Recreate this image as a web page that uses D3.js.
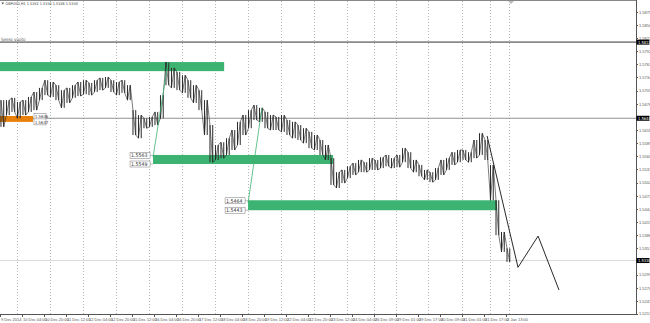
<!DOCTYPE html>
<html>
<head>
<meta charset="utf-8">
<script src="https://cdn.jsdelivr.net/npm/d3@7"></script>
<style>
  body { margin: 0; background: #fff; }
  svg { display: block; font-family: "Liberation Sans Narrow", "DejaVu Sans Condensed", sans-serif; }
  .axis text { font-size: 4px; fill: #555; }
  .axis path, .axis line { stroke: #555; shape-rendering: crispEdges; }
</style>
</head>
<body>
<div id="chart"></div>
<script>
// GBPUSD H1, one entry per group of 4 bars (high / low)
var groupHigh = [1.5684, 1.5684, 1.5689, 1.5680, 1.5684, 1.5691, 1.5702, 1.5711, 1.5728, 1.5724,
    1.5717, 1.5706, 1.5711, 1.5717, 1.5724, 1.5728, 1.5722, 1.5728, 1.5733, 1.5735,
    1.5728, 1.5724, 1.5728, 1.5717, 1.5662, 1.5651, 1.5644, 1.5647, 1.5658, 1.5695,
    1.5768, 1.5755, 1.5746, 1.5739, 1.5728, 1.5717, 1.5706, 1.5684, 1.5629, 1.5585,
    1.5591, 1.5600, 1.5618, 1.5636, 1.5651, 1.5662, 1.5673, 1.5667, 1.5658, 1.5651,
    1.5647, 1.5651, 1.5640, 1.5636, 1.5629, 1.5622, 1.5614, 1.5607, 1.5596, 1.5585,
    1.5556, 1.5525, 1.5530, 1.5538, 1.5545, 1.5552, 1.5547, 1.5556, 1.5552, 1.5558,
    1.5563, 1.5556, 1.5563, 1.5578, 1.5569, 1.5552, 1.5541, 1.5530, 1.5525, 1.5534,
    1.5552, 1.5556, 1.5569, 1.5574, 1.5574, 1.5569, 1.5596, 1.5611, 1.5596, 1.5541,
    1.5463, 1.5393, 1.5357];
var groupLow = [1.5625, 1.5651, 1.5658, 1.5644, 1.5651, 1.5658, 1.5662, 1.5684, 1.5695, 1.5691,
    1.5684, 1.5667, 1.5678, 1.5689, 1.5693, 1.5697, 1.5695, 1.5702, 1.5706, 1.5711,
    1.5702, 1.5695, 1.5700, 1.5684, 1.5607, 1.5600, 1.5622, 1.5625, 1.5629, 1.5644,
    1.5717, 1.5711, 1.5706, 1.5700, 1.5689, 1.5678, 1.5662, 1.5607, 1.5547, 1.5552,
    1.5556, 1.5563, 1.5574, 1.5585, 1.5607, 1.5622, 1.5640, 1.5636, 1.5622, 1.5618,
    1.5618, 1.5614, 1.5607, 1.5600, 1.5596, 1.5589, 1.5578, 1.5574, 1.5563, 1.5552,
    1.5497, 1.5490, 1.5501, 1.5512, 1.5519, 1.5525, 1.5525, 1.5530, 1.5530, 1.5534,
    1.5538, 1.5534, 1.5536, 1.5547, 1.5534, 1.5525, 1.5516, 1.5508, 1.5503, 1.5508,
    1.5519, 1.5530, 1.5541, 1.5547, 1.5552, 1.5547, 1.5556, 1.5563, 1.5552, 1.5463,
    1.5386, 1.5349, 1.5327];

var priceTicks = [1.5879, 1.5850, 1.5821, 1.5792, 1.5763, 1.5734, 1.5705, 1.5676, 1.5618,
    1.5589, 1.5560, 1.5531, 1.5502, 1.5473, 1.5444, 1.5415, 1.5386, 1.5357, 1.5299,
    1.5270, 1.5241, 1.5213];

var timeTickBars = [0, 16, 32, 48, 64, 80, 96, 112, 128, 144, 160, 176, 192, 208, 224, 240,
    256, 272, 288, 304, 320, 336, 352, 368];
var timeTickLabels = ["9 Dec 2014", "10 Dec 04:00", "10 Dec 20:00", "11 Dec 12:00", "12 Dec 04:00",
    "12 Dec 20:00", "15 Dec 12:00", "16 Dec 04:00", "16 Dec 20:00", "17 Dec 12:00", "18 Dec 04:00",
    "18 Dec 20:00", "19 Dec 12:00", "22 Dec 04:00", "22 Dec 20:00", "23 Dec 12:00", "24 Dec 04:00",
    "26 Dec 09:00", "29 Dec 01:00", "29 Dec 17:00", "30 Dec 09:00", "31 Dec 01:00", "31 Dec 17:00",
    "2 Jan 13:00"];
var dayGridBars = [12, 36, 60, 84, 108, 132, 156, 180, 204, 228, 252, 272, 288, 311, 336, 356, 370];

// objects drawn on the chart
var zones = [
    {b0: 0, b1: 163, top: 1.5768, bottom: 1.5748, color: "#3cb371", labels: null},
    {b0: 111.3, b1: 242.2, top: 1.5563, bottom: 1.5543, color: "#3cb371", labels: ["1.5563", "1.5549"]},
    {b0: 180.4, b1: 361.5, top: 1.5463, bottom: 1.5441, color: "#3cb371", labels: ["1.5464", "1.5443"]},
    {b0: 0, b1: 24, top: 1.5649, bottom: 1.5636, color: "#e8820c", labels: ["1.5646", "1.5637"]}
];
var trendLines = [
    [{b: 111.3, p: 1.5558}, {b: 122.2, p: 1.5768}],
    [{b: 180.4, p: 1.5457}, {b: 190.5, p: 1.5667}]
];
var zigzagBars = [354.2, 376.7, 391.3, 406.5];
var zigzagPrices = [1.5605, 1.5315, 1.5384, 1.5265];
var hLines = [
    {p: 1.5812, color: "#8a8a8a", w: 1.6, label: "1.5812"},
    {p: 1.5644, color: "#777", w: 0.8, label: "1.5644"},
    {p: 1.5330, color: "#cfcfcf", w: 0.8, label: "1.5330"}
];

var W = 650, H = 323, plotW = 636, plotH = 314;

var svg = d3.select("#chart").append("svg")
    .attr("width", W)
    .attr("height", H);

var x = d3.scaleLinear().domain([0, 462.5]).range([0, plotW]);
var y = d3.scaleLinear().domain([1.5212, 1.5905]).range([plotH, 0]);

// top border
svg.append("line").attr("x1", 0).attr("x2", plotW).attr("y1", 0.5).attr("y2", 0.5)
    .attr("stroke", "#888").attr("stroke-width", 1);

// day separators
svg.selectAll(".grid").data(dayGridBars).enter().append("line")
    .attr("x1", d => Math.round(x(d)) + 0.5).attr("x2", d => Math.round(x(d)) + 0.5)
    .attr("y1", 1).attr("y2", plotH)
    .attr("stroke", "#999").attr("stroke-width", 0.7)
    .attr("stroke-dasharray", "1,2");

// horizontal lines
svg.selectAll(".hline").data(hLines).enter().append("line")
    .attr("x1", 0).attr("x2", plotW)
    .attr("y1", d => y(d.p)).attr("y2", d => y(d.p))
    .attr("stroke", d => d.color).attr("stroke-width", d => d.w);

svg.append("text").attr("x", 1).attr("y", y(1.5812) - 1.5)
    .attr("font-size", 4.5).attr("fill", "#555").text("Sesso vuoto");

// zones
svg.selectAll(".zone").data(zones).enter().append("rect")
    .attr("x", d => x(d.b0)).attr("width", d => x(d.b1) - x(d.b0))
    .attr("y", d => y(d.top)).attr("height", d => y(d.bottom) - y(d.top))
    .attr("fill", d => d.color);

// price bars: two high-low sticks per group, joined by a thin path
var groups = groupHigh.map((h, i) => ({i: i, hi: h, lo: groupLow[i]}));
var pts = [];
groups.forEach(function(g) {
    var b0 = g.i * 4 + 0.7, b1 = g.i * 4 + 2.7;
    if (g.i % 2 === 0) { pts.push([b0, g.hi], [b1, g.lo]); }
    else { pts.push([b0, g.lo], [b1, g.hi]); }
});
svg.append("path")
    .attr("d", d3.line().x(d => x(d[0])).y(d => y(d[1]))(pts))
    .attr("fill", "none").attr("stroke", "#222").attr("stroke-width", 0.6);
var sticks = [];
groups.forEach(function(g) {
    sticks.push({b: g.i * 4 + 0.7, hi: g.hi, lo: g.lo});
    sticks.push({b: g.i * 4 + 2.7, hi: g.hi, lo: g.lo});
});
svg.selectAll(".stick").data(sticks).enter().append("line")
    .attr("x1", d => x(d.b)).attr("x2", d => x(d.b))
    .attr("y1", d => y(d.hi)).attr("y2", d => y(d.lo))
    .attr("stroke", "#2a2a2a").attr("stroke-width", 1);

// trend lines
svg.selectAll(".trend").data(trendLines).enter().append("path")
    .attr("d", d3.line().x(d => x(d.b)).y(d => y(d.p)))
    .attr("fill", "none").attr("stroke", "#3cb371").attr("stroke-width", 0.8);

// zigzag projection
svg.append("path")
    .attr("d", d3.line().x(d => x(d[0])).y(d => y(d[1]))(zigzagBars.map((b, i) => [b, zigzagPrices[i]])))
    .attr("fill", "none").attr("stroke", "#111").attr("stroke-width", 0.9);

// zone price labels
zones.filter(z => z.labels).forEach(function(z) {
    var narrow = z.b0 === 0;
    var bw = narrow ? 12 : 20;
    [z.top, z.bottom].forEach(function(p, k) {
        var cy = y(p) + (k === 0 ? 0.5 : 0);
        var bx = narrow ? x(z.b1) + 1 : x(z.b0) - 23;
        svg.append("rect").attr("x", bx).attr("y", cy - 3).attr("width", bw).attr("height", 6)
            .attr("fill", "#fff").attr("stroke", "#777").attr("stroke-width", 0.5);
        svg.append("text").attr("x", bx + 1).attr("y", cy + 2)
            .attr("font-size", narrow ? 4.2 : 5.2).attr("fill", "#333").text(z.labels[k]);
        if (!narrow) {
            svg.append("line").attr("x1", bx + bw).attr("x2", x(z.b0)).attr("y1", cy).attr("y2", cy)
                .attr("stroke", "#777").attr("stroke-width", 0.5);
        }
    });
});

// price axis
var yAxis = svg.append("g").attr("class", "axis")
    .attr("transform", "translate(" + (plotW + 0.5) + ",0)")
    .call(d3.axisRight(y).tickValues(priceTicks).tickSize(1.5).tickPadding(1)
        .tickFormat(d => d.toFixed(4)));
yAxis.select(".domain").attr("d", "M0,0V" + plotH);

hLines.forEach(function(h) {
    var g = svg.append("g").attr("transform", "translate(" + (plotW + 0.5) + "," + y(h.p) + ")");
    g.append("rect").attr("x", 0).attr("y", -2.5).attr("width", 13).attr("height", 5).attr("fill", "#000");
    g.append("text").attr("x", 1.5).attr("y", 1.5).attr("font-size", 4).attr("fill", "#fff").text(h.label);
});

// time axis
var xAxis = svg.append("g").attr("class", "axis")
    .attr("transform", "translate(0," + (plotH + 0.5) + ")")
    .call(d3.axisBottom(x).tickValues(timeTickBars).tickSize(2).tickPadding(1.5)
        .tickFormat((d, i) => timeTickLabels[i]));
xAxis.select(".domain").attr("d", "M0,0H" + (plotW + 0.5));
xAxis.selectAll("text").attr("text-anchor", "start").attr("dx", 0.5);

// chart title
svg.append("path").attr("d", "M1.5,2.5L4,2.5L2.75,4.5Z").attr("fill", "#444");
svg.append("text").attr("x", 5.5).attr("y", 5).attr("font-size", 3.8).attr("fill", "#444")
    .text("GBPUSD,H1  1.5332 1.5334 1.5326 1.5330");

// shift marker
svg.append("path").attr("d", "M508,1L514,1L511,4Z").attr("fill", "#bbb");
</script>
</body>
</html>
